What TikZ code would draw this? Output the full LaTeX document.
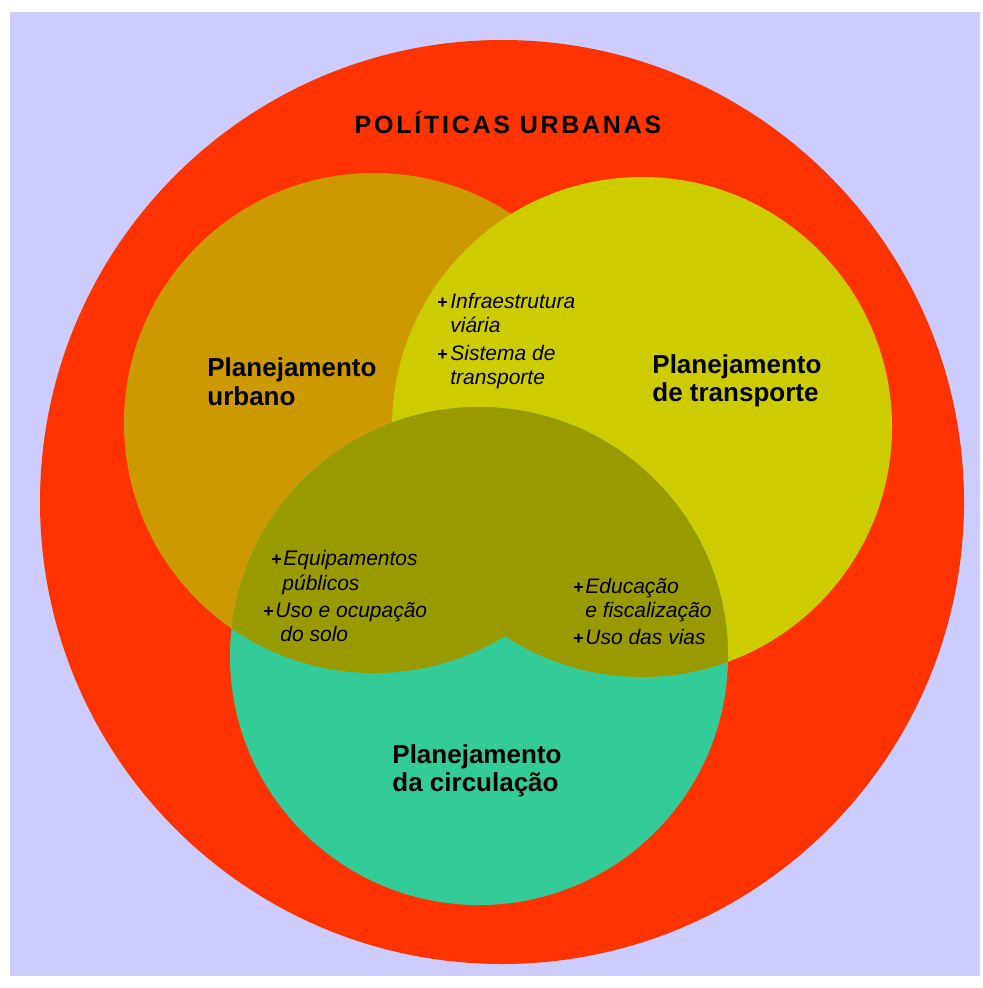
\documentclass[tikz,border=0pt]{standalone}
\usepackage{fontspec}
\setmainfont{Liberation Sans}
\newfontfamily\titlefont[LetterSpace=11]{Liberation Sans}
\usepackage{tikz}
\definecolor{bgviolet}{HTML}{CCCCFF}
\definecolor{polred}{HTML}{FF3300}
\definecolor{urbcol}{HTML}{CC9900}
\definecolor{tracol}{HTML}{CCCC00}
\definecolor{circol}{HTML}{33CC99}
\definecolor{overlap}{HTML}{999900}

\begin{document}
\begin{tikzpicture}[
  x=0.5pt, y=-0.5pt,
  every node/.style={inner sep=0pt, anchor=base west, text=black},
  titl/.style={anchor=base, font=\titlefont\fontsize{12.5}{14}\selectfont\bfseries},
  lbl/.style={font=\fontsize{13}{15}\selectfont\bfseries},
  itm/.style={font=\fontsize{10.5}{12.5}\selectfont\itshape},
  bul/.style={font=\fontsize{9}{10}\selectfont\bfseries}
]
\useasboundingbox (0,0) rectangle (982,988);
\fill[white] (0,0) rectangle (982,988);
\fill[bgviolet] (10,12) rectangle (980,976);

% circles
\coordinate (pol) at (502,502);
\coordinate (urb) at (374,423);
\coordinate (tra) at (642,427);
\coordinate (cir) at (479,656);

\fill[polred] (pol) circle[radius=231pt];
\fill[urbcol] (urb) circle[radius=125pt];
\fill[tracol] (tra) circle[radius=125pt];
\fill[circol] (cir) circle[radius=124.5pt];
\begin{scope}
  \clip (cir) circle[radius=124.5pt];
  \fill[overlap] (urb) circle[radius=125pt] (tra) circle[radius=125pt];
\end{scope}

% title
\node[titl] (titulo) at (508,134) {POLÍTICAS URBANAS};

% Planejamento urbano
\node[lbl] (urb1) at (207,377) {Planejamento};
\node[lbl] (urb2) at (207,405) {urbano};

% Planejamento de transporte
\node[lbl] (tra1) at (652,373) {Planejamento};
\node[lbl] (tra2) at (652,401) {de transporte};

% Planejamento da circulacao
\node[lbl] (cir1) at (392,763) {Planejamento};
\node[lbl] (cir2) at (392,791) {da circulação};

% urbano / transporte
\node[bul] (b1) at (437,309) {+};
\node[itm] (infra) at (450,309) {Infraestrutura};
\node[itm] (viaria) at (450,333) {viária};
\node[bul] (b2) at (437,360) {+};
\node[itm] (sist) at (450,360) {Sistema de};
\node[itm] (transp) at (450,384) {transporte};

% urbano / circulacao
\node[bul] (b3) at (271,565) {+};
\node[itm] (equip) at (283,565) {Equipamentos};
\node[itm] (publ) at (282,590) {públicos};
\node[bul] (b4) at (263,617) {+};
\node[itm] (uso) at (275,617) {Uso e ocupação};
\node[itm] (solo) at (280,641) {do solo};

% transporte / circulacao
\node[bul] (b5) at (573,593) {+};
\node[itm] (educ) at (585,593) {Educação};
\node[itm] (fisc) at (585,617) {e fiscalização};
\node[bul] (b6) at (573,644) {+};
\node[itm] (vias) at (585,644) {Uso das vias};

\end{tikzpicture}
\end{document}
